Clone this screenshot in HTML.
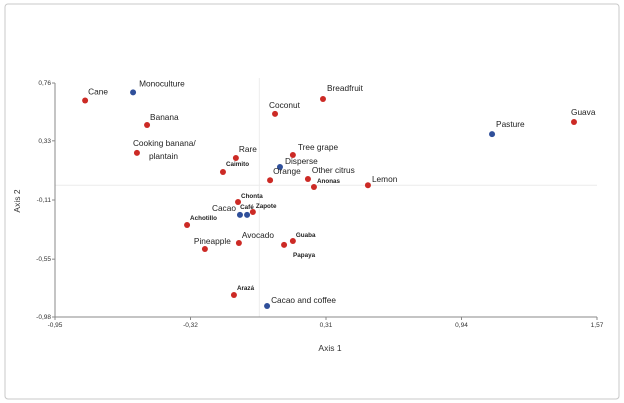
<!DOCTYPE html>
<html><head><meta charset="utf-8"><style>
body{margin:0;background:#fff;}
svg{display:block;font-family:"Liberation Sans",sans-serif;}
</style></head><body>
<svg width="624" height="403">
<rect x="5" y="4" width="614" height="395" rx="3" fill="#fff" stroke="#c8c8c8"/>
<g id="grid"></g><g id="axes"></g><g id="pts"></g>
<text x="330" y="351" font-size="8.5" text-anchor="middle" fill="#333">Axis 1</text>
<text x="20" y="201" font-size="8.5" text-anchor="middle" fill="#333" transform="rotate(-90 20 201)">Axis 2</text>
</svg>
<script>
const xTicks=[-0.95,-0.32,0.31,0.94,1.57];
const yTicks=[0.76,0.33,-0.11,-0.55,-0.98];
const xTickLabels=["-0,95","-0,32","0,31","0,94","1,57"];
const yTickLabels=["0,76","0,33","-0,11","-0,55","-0,98"];
const names=["Cane","Monoculture","Banana","Cooking banana/","Rare","Caimito","Coconut","Breadfruit","Tree grape","Disperse","Orange","Other citrus","Anonas","Lemon","Pasture","Guava","Chonta","Cacao","Café","Zapote","Achotillo","Avocado","Pineapple","Guaba","Papaya","Arazá","Cacao and coffee"];
const xs=[-0.81,-0.587,-0.522,-0.569,-0.109,-0.169,0.073,0.296,0.156,0.096,0.05,0.226,0.254,0.505,1.082,1.463,-0.099,-0.09,-0.057,-0.03,-0.336,-0.095,-0.253,0.156,0.115,-0.118,0.036];
const ys=[0.63,0.69,0.448,0.24,0.202,0.098,0.53,0.641,0.225,0.135,0.037,0.046,-0.013,0.0,0.38,0.47,-0.125,-0.221,-0.221,-0.199,-0.296,-0.43,-0.474,-0.415,-0.444,-0.816,-0.898];
const groups=["s","g","s","s","s","s","s","s","s","g","s","s","s","s","g","s","s","g","g","s","s","s","s","s","s","s","g"];
// label offsets [dx,dy,small]
const lab=[[3,-6,0],[6,-6,0],[3,-5,0],[-4,-7,0],[3,-6,0],[3,-6,1],[-6,-6,0],[4,-8,0],[5,-5,0],[5,-3,0],[3,-6,0],[4,-6,0],[3,-4,1],[4,-3,0],[4,-7,0],[-3,-7,0],[3,-4,1],[-28,-4,0],[-7,-6,1],[3,-4,1],[3,-5,1],[3,-5,0],[-11,-5,0],[3,-4,1],[9,12,1],[3,-5,1],[4,-3,0]];
const SVGNS="http://www.w3.org/2000/svg";
const X0=55,X1=597,Y0=83,Y1=317;
const fx=v=>X0+(v-xTicks[0])/(xTicks[4]-xTicks[0])*(X1-X0);
const fy=v=>Y0+(yTicks[0]-v)/(yTicks[0]-yTicks[4])*(Y1-Y0);
function mk(t,a,p){const e=document.createElementNS(SVGNS,t);for(const k in a)e.setAttribute(k,a[k]);p.appendChild(e);return e;}
const grid=document.getElementById('grid'),axes=document.getElementById('axes'),pts=document.getElementById('pts');
let l=mk('line',{x1:fx(0),x2:fx(0),y1:Y0-5,y2:Y1,stroke:'#ececec'},grid);


l=mk('line',{x1:X0,x2:X1,y1:fy(0),y2:fy(0),stroke:'#ececec'},grid);


l=mk('line',{x1:X0,x2:X1,y1:Y1,y2:Y1,stroke:'#888'},axes);


l=mk('line',{x1:X0,x2:X0,y1:Y0,y2:Y1,stroke:'#888'},axes);


xTicks.forEach((v,i)=>{mk('line',{x1:fx(v),x2:fx(v),y1:Y1,y2:Y1+3,stroke:'#888'},axes);
const t=mk('text',{x:fx(v),y:Y1+10,'font-size':6.5,'text-anchor':'middle',fill:'#333'},axes);t.textContent=xTickLabels[i];

});
yTicks.forEach((v,i)=>{mk('line',{x1:X0-3,x2:X0,y1:fy(v),y2:fy(v),stroke:'#888'},axes);
const t=mk('text',{x:X0-4,y:fy(v)+2,'font-size':6.5,'text-anchor':'end',fill:'#333'},axes);t.textContent=yTickLabels[i];

});
names.forEach((n,i)=>{const cx=fx(xs[i]),cy=fy(ys[i]);
const c=mk('circle',{cx:cx,cy:cy,r:3,fill:groups[i]=='g'?'#2f4f9a':'#cc2a25'},pts);


const o=lab[i];
const t=mk('text',{x:cx+o[0],y:cy+o[1],'font-size':o[2]?6.3:8.3,'font-weight':o[2]?'bold':'normal',fill:'#222'},pts);
t.textContent=n;


if(n=="Cooking banana/"){const t2=mk('text',{x:cx+12,y:cy+6,'font-size':8.3,fill:'#222'},pts);t2.textContent='plantain';

}
});
</script>
</body></html>
